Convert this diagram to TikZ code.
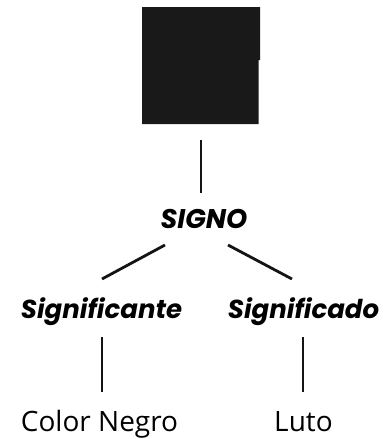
\documentclass[tikz,border=0pt]{standalone}
\usepackage{fontspec}
\setmainfont{Open Sans}
\newfontfamily\headfont{Poppins}[UprightFont=* Bold, ItalicFont=* Bold Italic]
\begin{document}
\begin{tikzpicture}[x=1pt,y=-1pt,
  term/.style={font=\headfont\itshape\fontsize{26}{26}\selectfont, inner sep=0pt, anchor=base},
  leaf/.style={font=\fontsize{28}{28}\selectfont, inner sep=0pt, anchor=base},
  link/.style={line width=2.8pt, draw=black!92}]
\useasboundingbox (0,0) rectangle (387,439);
% the black sign
\fill[black!90] (142,7) -- (260,7) -- (260,60) -- (258.5,60) -- (258.5,124) -- (142,124) -- cycle;
% labels
\node[term, font=\headfont\itshape\fontsize{27}{27}\selectfont] (signo) at (204,228) {SIGNO};
\node[term] (ste) at (101.5,318) {Significante};
\node[term] (sdo) at (303.5,318) {Significado};
\node[leaf] (negro) at (99.5,431.5) {Color Negro};
\node[leaf] (luto) at (303.5,431.5) {Luto};
% connector ends
\coordinate (a1) at (201,140); \coordinate (a2) at (201,193);
\coordinate (b1) at (165,245); \coordinate (b2) at (102,279);
\coordinate (c1) at (228,245); \coordinate (c2) at (292,279);
\coordinate (d1) at (102,337); \coordinate (d2) at (102,392);
\coordinate (e1) at (303,337); \coordinate (e2) at (303,392);
\draw[link] (a1) -- (a2);
\draw[link] (b1) -- (b2);
\draw[link] (c1) -- (c2);
\draw[link] (d1) -- (d2);
\draw[link] (e1) -- (e2);
\end{tikzpicture}
\end{document}
